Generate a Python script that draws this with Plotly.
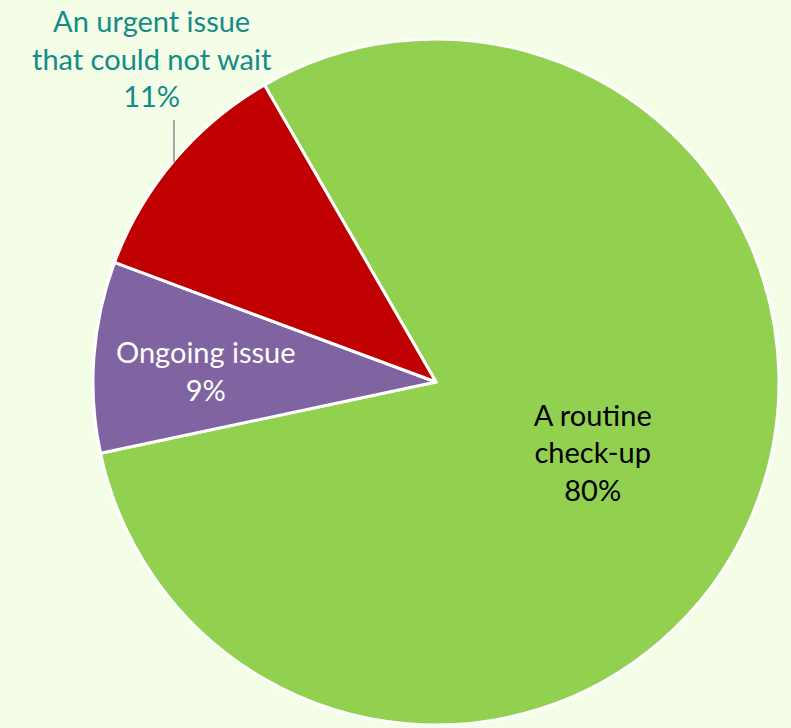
import plotly.graph_objects as go

labels = ["A routine check-up", "Ongoing issue", "An urgent issue that could not wait"]
values = [80, 9, 11]
colors = ["#92D050", "#8064A2", "#C00000"]
label_lines = ["A routine<br>check-up", "Ongoing issue", "An urgent issue<br>that could not wait"]
text_colors = ["#000000", "#FFFFFF", "#138C88"]

W, H = 791, 728
cx, cy, r = 436, 382, 343
FONT = "Lato, Open Sans, sans-serif"
FS = 29

display = [f"{label_lines[0]}<br>{values[0]}%", "", ""]

fig = go.Figure(go.Pie(
    labels=labels,
    values=values,
    sort=False,
    direction="clockwise",
    rotation=-30,
    marker=dict(colors=colors, line=dict(color="white", width=3)),
    text=display,
    texttemplate="%{text}",
    textposition=["inside", "none", "none"],
    insidetextorientation="horizontal",
    textfont=dict(family=FONT, size=FS, color=text_colors),
    showlegend=False,
    hoverinfo="label+percent",
    domain=dict(x=[(cx - r) / W, (cx + r) / W], y=[(H - cy - r) / H, (H - cy + r) / H]),
))

# Ongoing issue label (inside the purple slice)
fig.add_annotation(
    x=206 / W, y=1 - 370 / H, xref="paper", yref="paper",
    xanchor="center", yanchor="middle",
    text=f"{label_lines[1]}<br>{values[1]}%",
    showarrow=False,
    font=dict(family=FONT, size=FS, color=text_colors[1]),
    align="center",
)

# Urgent issue label (outside with leader line)
fig.add_annotation(
    x=152 / W, y=1 - 58 / H, xref="paper", yref="paper",
    xanchor="center", yanchor="middle",
    text=f"{label_lines[2]}<br>{values[2]}%",
    showarrow=False,
    font=dict(family=FONT, size=FS, color=text_colors[2]),
    align="center",
)
fig.add_shape(type="line", xref="paper", yref="paper",
              x0=174 / W, x1=174 / W, y0=1 - 120 / H, y1=1 - 162 / H,
              line=dict(color="#A6A6A6", width=2))

fig.update_layout(
    width=W, height=H,
    margin=dict(l=0, r=0, t=0, b=0),
    paper_bgcolor="#F4FDE6",
    plot_bgcolor="#F4FDE6",
)

fig.write_html("out.html", config={"displayModeBar": False},
               post_script="document.body.style.margin='0';document.body.style.background='#F4FDE6';")
